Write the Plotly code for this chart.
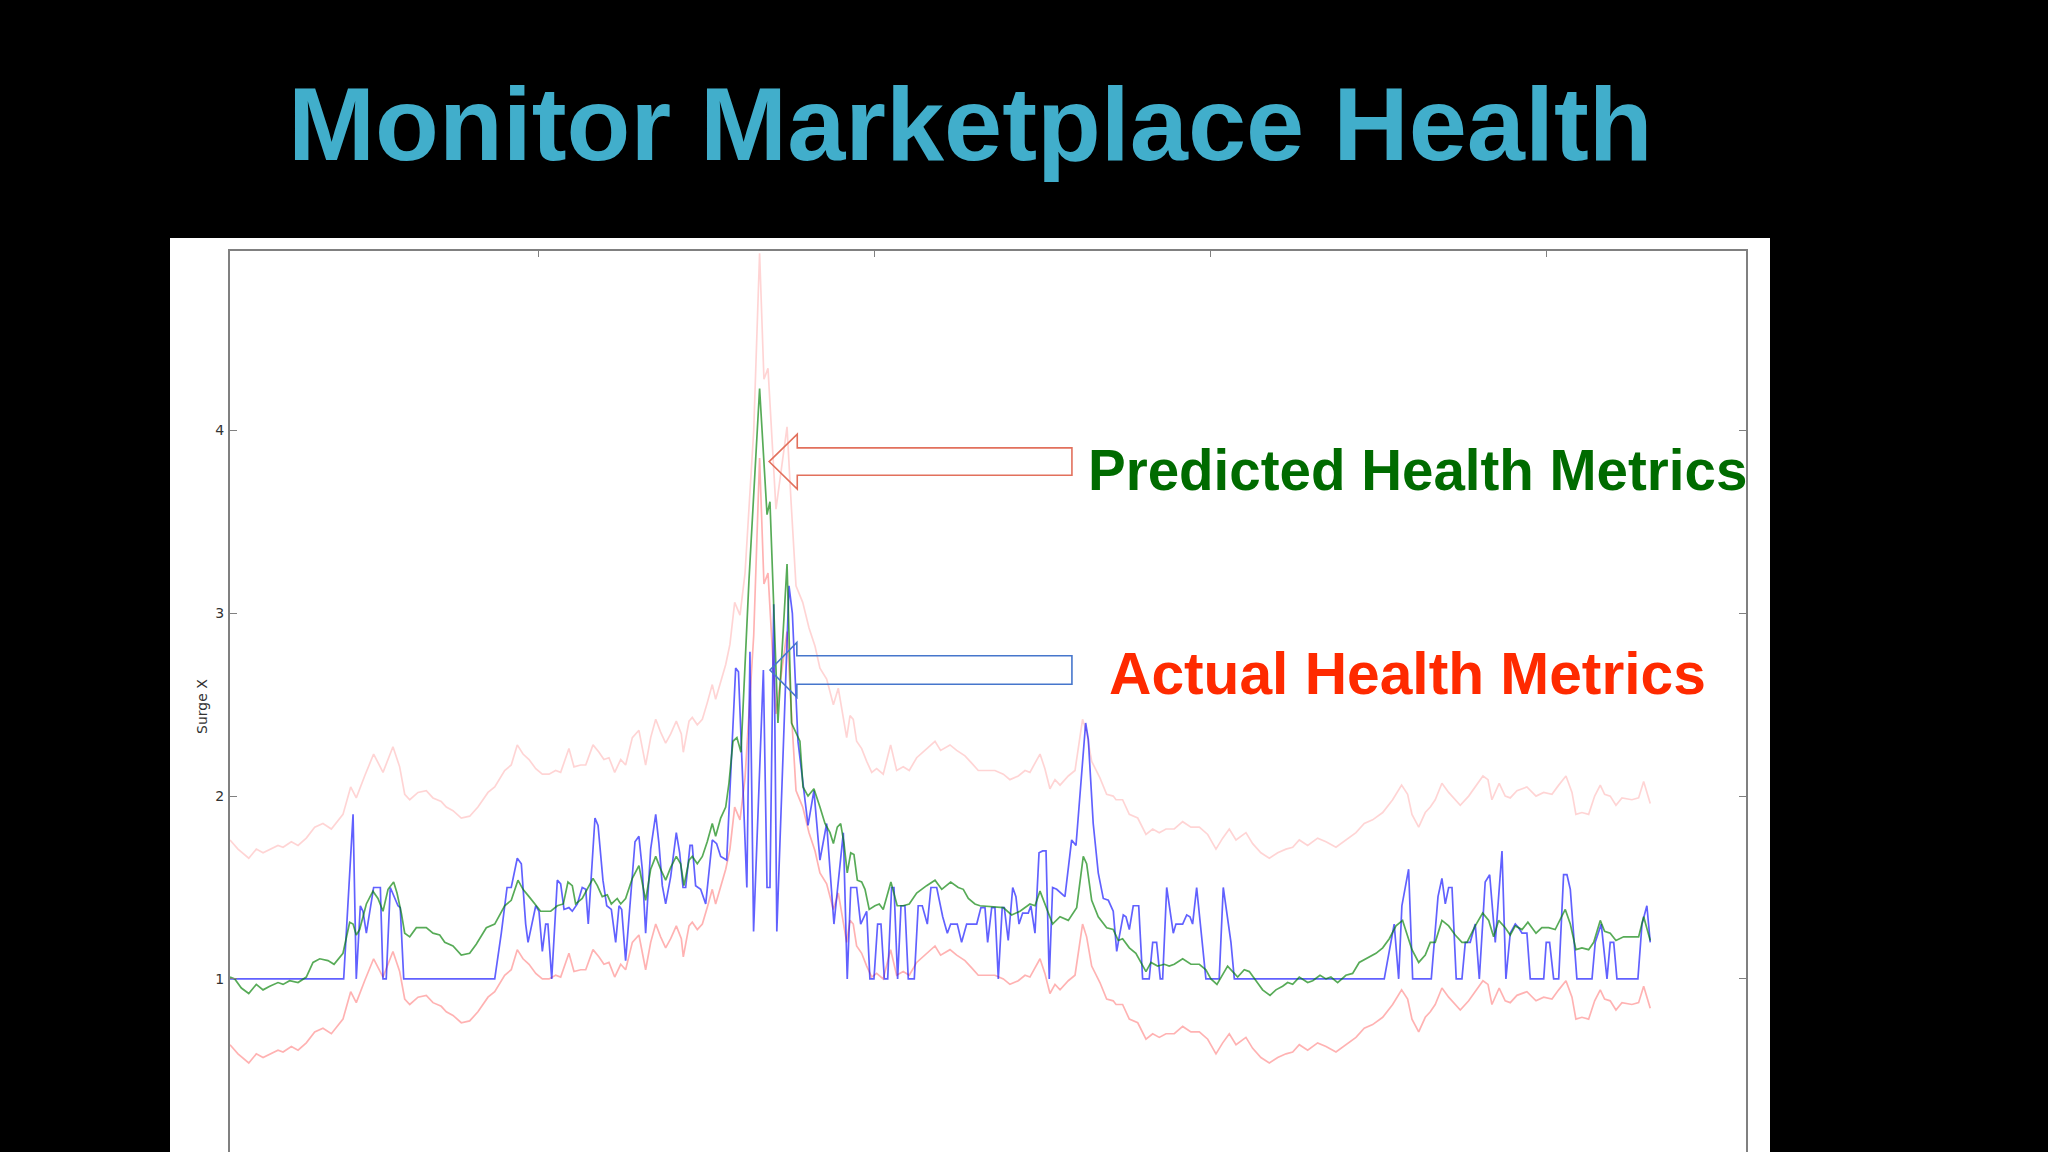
import plotly.graph_objects as go

# ---------------- data (time in hours from start, values = surge multiplier) ----------------
actual_t = [
    0.00, 8.12, 8.79, 9.02, 9.31, 9.50, 9.74, 10.26, 10.74, 10.93, 11.16, 11.45, 12.00, 12.16, 12.41, 18.91, 19.38, 19.79, 20.09, 20.52, 20.81, 21.12,
    21.29, 21.84, 22.07, 22.31, 22.55, 22.71, 22.98, 23.38, 23.62, 23.86, 24.21, 24.45, 24.81, 25.16, 25.41, 25.59, 26.07, 26.29, 26.64, 26.91,
    27.24, 27.55, 27.79, 27.98, 28.26, 28.93, 29.21, 29.45, 29.69, 30.05, 30.41, 30.64, 30.88, 31.12, 31.48, 31.88, 32.12, 32.36, 32.55, 32.86,
    33.02, 33.26, 33.62, 33.98, 34.45, 34.76, 35.05, 35.48,
    36.12, 36.32, 36.92, 37.14, 37.40, 38.10, 38.36, 38.57, 38.84, 39.06, 39.93, 40.17, 40.57, 41.07, 41.29, 41.71,
    42.14, 42.62, 43.14, 43.81, 44.09, 44.34, 44.76, 45.05, 45.48, 45.71, 46.00, 46.26, 46.50, 46.74, 46.98, 47.26, 47.43, 47.69, 47.93, 48.21,
    48.45, 48.88, 49.16, 49.45, 49.81, 50.07, 50.48, 50.91, 51.24, 51.48, 51.95, 52.26, 52.62, 53.34, 53.64, 53.93, 54.12, 54.41, 54.64, 54.88,
    55.16, 55.31, 55.59, 55.91, 56.14, 56.36, 56.62, 57.02, 57.21, 57.50, 57.79, 58.05, 58.29, 58.52, 58.76, 59.05, 59.64, 60.12, 60.43, 61.12,
    61.31, 61.66, 62.02, 62.38, 62.74, 63.09, 63.34,
    63.52, 63.81, 64.00, 64.24, 64.52, 64.91, 65.19, 65.66, 65.91, 66.19, 66.45, 66.62, 66.91, 67.38, 67.57, 68.05, 68.34, 68.57, 68.76, 69.05,
    69.71, 70.66, 70.95, 71.50, 71.74, 82.45, 83.16, 83.48, 83.71, 84.19, 84.48,
    85.81, 86.29, 86.57, 86.81, 87.05, 87.29, 87.59, 88.00, 88.24, 88.59, 88.95, 89.24, 89.66, 89.98, 90.38, 90.86, 91.14, 91.45, 91.81, 92.05,
    92.29, 92.64, 92.88, 93.84, 94.02, 94.26, 94.55, 94.91, 95.26, 95.50, 95.74, 96.21, 97.29, 97.52, 97.95, 98.36, 98.59, 98.84, 99.07, 100.57,
    100.86, 101.21, 101.45,
]
actual = [
    1.0, 1.0, 1.90, 1.0, 1.40, 1.37, 1.25, 1.50, 1.50, 1.0, 1.0, 1.50, 1.40, 1.39, 1.0, 1.0, 1.25, 1.50, 1.50, 1.66, 1.63, 1.30,
    1.20, 1.40, 1.37, 1.15, 1.30, 1.30, 1.0, 1.54, 1.52, 1.38, 1.39, 1.37, 1.41, 1.50, 1.49, 1.30, 1.88, 1.84, 1.54, 1.40,
    1.38, 1.20, 1.40, 1.38, 1.10, 1.75, 1.78, 1.60, 1.25, 1.71, 1.90, 1.74, 1.51, 1.41, 1.56, 1.80, 1.69, 1.50, 1.50, 1.73,
    1.73, 1.51, 1.49, 1.41, 1.76, 1.74, 1.67, 1.65,
    2.70, 2.68, 1.50, 2.79, 1.26, 2.69, 1.50, 1.50, 3.05, 1.26, 3.15, 3.00, 2.30, 2.00, 1.84, 2.03,
    1.65, 1.85, 1.30, 1.80, 1.0, 1.50, 1.50, 1.30, 1.37, 1.0, 1.0, 1.30, 1.30, 1.0, 1.0, 1.50, 1.50, 1.0, 1.40, 1.40,
    1.0, 1.0, 1.40, 1.40, 1.30, 1.50, 1.50, 1.34, 1.25, 1.30, 1.30, 1.20, 1.30, 1.30, 1.39, 1.39, 1.20, 1.39, 1.39, 1.0,
    1.39, 1.39, 1.21, 1.50, 1.45, 1.30, 1.36, 1.36, 1.40, 1.25, 1.69, 1.70, 1.70, 1.0, 1.50, 1.49, 1.45, 1.76, 1.73, 2.40,
    2.31, 1.85, 1.58, 1.44, 1.43, 1.37, 1.15,
    1.23, 1.35, 1.34, 1.27, 1.40, 1.40, 1.0, 1.0, 1.20, 1.20, 1.0, 1.0, 1.50, 1.25, 1.30, 1.30, 1.35, 1.34, 1.30, 1.50,
    1.0, 1.0, 1.50, 1.20, 1.0, 1.0, 1.30, 1.0, 1.40, 1.60, 1.0,
    1.0, 1.45, 1.55, 1.41, 1.50, 1.50, 1.0, 1.0, 1.20, 1.20, 1.30, 1.0, 1.53, 1.57, 1.20, 1.70, 1.0, 1.25, 1.30, 1.28,
    1.25, 1.25, 1.0, 1.0, 1.20, 1.20, 1.0, 1.0, 1.57, 1.57, 1.49, 1.0, 1.0, 1.20, 1.30, 1.0, 1.20, 1.20, 1.0, 1.0,
    1.30, 1.40, 1.20,
]

predicted_t = [
    0.00, 0.34, 0.81, 1.34, 1.88, 2.36, 2.84, 3.43, 3.79, 4.26, 4.86, 5.45, 5.93, 6.41, 7.00, 7.43, 8.07, 8.55, 8.79, 9.02,
    9.26, 9.74, 10.21, 10.57, 10.93, 11.29, 11.69, 11.93, 12.24, 12.48, 12.84, 13.31, 14.02, 14.50, 14.98, 15.34, 15.93, 16.52, 17.12, 17.59,
    18.31, 18.91, 19.62, 20.09, 20.57, 20.93,
    21.36, 21.84, 22.19, 22.91, 23.38, 23.81, 24.14, 24.45, 24.69, 25.16, 25.52, 25.93, 26.24, 26.59, 26.95, 27.24, 27.66, 27.91, 28.26, 28.74,
    29.21, 29.69, 30.05, 30.41, 30.76, 31.12, 31.48, 31.88, 32.19, 32.43, 32.79, 33.02, 33.38, 33.74, 34.09, 34.45, 34.69, 35.05, 35.41, 35.64,
    35.93, 36.21, 36.50, 37.07, 37.83, 38.36, 38.57, 39.14, 39.79, 40.11, 40.71, 40.93, 41.29, 41.71,
    42.14, 42.50, 42.86, 43.10, 43.38, 43.62, 43.86, 44.09, 44.34, 44.57, 44.81, 45.12, 45.36, 45.66, 46.07, 46.38, 46.66, 47.21, 47.66, 48.09,
    48.52, 49.05, 49.76, 50.36, 50.84, 51.48, 52.02, 52.38, 52.74, 53.21, 53.57, 55.24, 55.83, 56.43, 57.14, 57.50, 57.86, 58.33, 58.76, 59.29,
    59.88, 60.48, 60.95, 61.19, 61.55, 62.02, 62.62, 63.09, 63.45,
    63.76, 64.24, 64.71, 65.07, 65.43, 65.79, 66.26, 66.74, 67.09, 67.45, 68.05, 68.64, 69.24, 69.71, 70.07, 70.50, 70.91, 71.26, 71.62, 71.98,
    72.45, 72.81, 73.29, 73.76, 74.29, 74.71, 75.19, 75.55, 75.91, 76.38, 76.98, 77.34, 77.86, 78.29, 78.64, 79.12, 79.71, 80.19, 80.66, 81.38,
    81.86, 82.34, 82.81, 83.29, 83.76,
    84.43, 84.91, 85.38, 85.74, 86.09, 86.57, 87.05, 87.52, 88.00, 88.36, 88.95, 89.48, 89.91, 90.26, 90.62, 91.09, 91.45, 91.81, 92.29, 92.71,
    93.29, 93.71, 94.19, 94.66, 95.38, 95.74, 96.14, 96.57, 97.05, 97.41, 97.88, 98.19, 98.59, 99.00, 99.55, 100.14, 100.62, 100.98, 101.45,
]
predicted = [
    1.01, 1.00, 0.95, 0.92, 0.97, 0.94, 0.96, 0.98, 0.97, 0.99, 0.98, 1.01, 1.09, 1.11, 1.10, 1.08, 1.14, 1.31, 1.30, 1.24,
    1.27, 1.41, 1.48, 1.44, 1.37, 1.49, 1.53, 1.47, 1.36, 1.25, 1.23, 1.28, 1.28, 1.25, 1.24, 1.20, 1.18, 1.13, 1.14, 1.19,
    1.28, 1.30, 1.40, 1.43, 1.54, 1.49,
    1.45, 1.40, 1.37, 1.37, 1.40, 1.41, 1.53, 1.51, 1.41, 1.44, 1.49, 1.55, 1.51, 1.45, 1.46, 1.41, 1.44, 1.41, 1.44, 1.55,
    1.62, 1.43, 1.60, 1.67, 1.60, 1.54, 1.61, 1.67, 1.63, 1.51, 1.65, 1.67, 1.63, 1.67, 1.75, 1.85, 1.78, 1.88, 1.94, 2.07,
    2.30, 2.32, 2.24, 3.18, 4.23, 3.54, 3.61, 2.40, 3.27, 2.40, 2.30, 2.05, 2.00, 2.04,
    1.94, 1.85, 1.80, 1.74, 1.83, 1.85, 1.74, 1.58, 1.69, 1.68, 1.54, 1.53, 1.49, 1.38, 1.40, 1.41, 1.38, 1.53, 1.40, 1.40,
    1.41, 1.47, 1.51, 1.54, 1.49, 1.53, 1.50, 1.49, 1.44, 1.41, 1.40, 1.39, 1.35, 1.37, 1.41, 1.40, 1.48, 1.38, 1.30, 1.34,
    1.32, 1.39, 1.67, 1.63, 1.43, 1.34, 1.28, 1.27, 1.21,
    1.22, 1.17, 1.14, 1.09, 1.04, 1.09, 1.07, 1.08, 1.07, 1.08, 1.11, 1.08, 1.08, 1.05, 1.00, 0.97, 1.02, 1.07, 1.04, 1.01,
    1.05, 1.04, 0.99, 0.94, 0.91, 0.94, 0.96, 0.98, 0.97, 1.01, 0.98, 0.99, 1.02, 1.00, 1.01, 0.98, 1.02, 1.03, 1.09, 1.12,
    1.14, 1.17, 1.22, 1.29, 1.32,
    1.16, 1.09, 1.13, 1.20, 1.20, 1.32, 1.29, 1.24, 1.20, 1.20, 1.29, 1.36, 1.32, 1.23, 1.32, 1.28, 1.24, 1.29, 1.27, 1.31,
    1.25, 1.28, 1.28, 1.27, 1.38, 1.30, 1.16, 1.17, 1.16, 1.20, 1.32, 1.26, 1.25, 1.21, 1.23, 1.23, 1.23, 1.34, 1.21,
]

band_t = [
    0.00, 0.57, 1.34, 1.88, 2.36, 2.84, 3.43, 3.79, 4.38, 4.86, 5.45, 6.05, 6.64, 7.24, 8.07, 8.62, 9.02, 9.62, 10.26, 10.93,
    11.64, 12.12, 12.48, 12.84, 13.43, 14.02, 14.50, 15.09, 15.45, 15.93, 16.52, 17.12, 17.71, 18.43, 18.91, 19.62, 20.09, 20.52, 20.93,
    21.36, 21.84, 22.31, 22.79, 23.26, 23.62, 24.21, 24.57, 25.05, 25.41, 25.93, 26.36, 26.71, 27.07, 27.48, 27.91, 28.26, 28.74, 29.21, 29.69,
    30.05, 30.41, 30.76, 31.12, 31.48, 31.88, 32.24, 32.38, 32.79, 33.02, 33.38, 33.74, 34.09, 34.45, 34.69, 35.05, 35.41, 35.71, 36.05, 36.43,
    36.79, 37.41, 37.83, 38.14, 38.43, 39.00, 39.79, 40.07, 40.43, 40.91, 41.36, 41.79,
    42.14, 42.62, 43.10, 43.45, 43.81, 44.05, 44.29, 44.52, 44.76, 45.12, 45.48, 45.84, 46.19, 46.66, 47.19, 47.62, 48.09, 48.52, 49.05, 49.76,
    50.36, 50.76, 51.43, 51.91, 52.50, 52.98, 53.45, 54.05, 54.64, 55.24, 55.71, 56.31, 56.79, 57.14, 57.86, 58.21, 58.57, 58.93, 59.29, 59.88,
    60.36, 60.90, 61.19, 61.55, 62.14, 62.62, 63.09,
    63.29, 63.76, 64.24, 64.84, 65.43, 65.91, 66.38, 66.86, 67.45, 68.05, 68.64, 69.24, 69.84, 70.43, 70.91, 71.38, 71.86, 72.57, 73.05, 73.64,
    74.24, 74.84, 75.43, 75.91, 76.38, 76.98, 77.69, 78.29, 79.00, 79.71, 80.43, 81.02, 81.62, 82.34, 83.05, 83.69, 84.12,
    84.43, 84.91, 85.38, 85.74, 86.09, 86.57, 87.05, 87.88, 88.48, 88.95, 89.50, 89.86, 90.14, 90.66, 91.09, 91.45, 91.93, 92.64, 93.29, 93.84,
    94.43, 94.91, 95.43, 95.86, 96.14, 96.57, 97.05, 97.48, 97.88, 98.19, 98.59, 99.00, 99.43, 100.14, 100.62, 100.98, 101.45,
]
band_lower = [
    0.64, 0.59, 0.54, 0.59, 0.57, 0.59, 0.61, 0.60, 0.63, 0.61, 0.65, 0.71, 0.73, 0.70, 0.78, 0.93, 0.87, 0.99, 1.11, 1.01,
    1.15, 1.04, 0.89, 0.86, 0.90, 0.91, 0.87, 0.85, 0.82, 0.80, 0.76, 0.77, 0.82, 0.90, 0.93, 1.02, 1.05, 1.16, 1.11,
    1.08, 1.03, 1.00, 1.00, 1.02, 1.01, 1.14, 1.04, 1.05, 1.05, 1.16, 1.12, 1.08, 1.09, 1.01, 1.08, 1.05, 1.20, 1.24, 1.05,
    1.20, 1.30, 1.23, 1.17, 1.22, 1.29, 1.22, 1.12, 1.29, 1.31, 1.27, 1.30, 1.39, 1.49, 1.41, 1.51, 1.60, 1.71, 1.94, 1.87,
    2.10, 2.88, 3.85, 3.16, 3.22, 2.45, 2.90, 2.50, 2.03, 1.94, 1.80, 1.70,
    1.58, 1.52, 1.38, 1.47, 1.30, 1.20, 1.32, 1.30, 1.18, 1.14, 1.07, 1.01, 1.03, 1.00, 1.16, 1.02, 1.04, 1.02, 1.09, 1.14,
    1.18, 1.13, 1.16, 1.13, 1.10, 1.06, 1.02, 1.02, 1.02, 1.00, 0.97, 0.99, 1.02, 1.01, 1.11, 1.03, 0.92, 0.97, 0.94, 0.99,
    1.02, 1.30, 1.23, 1.07, 0.98, 0.89, 0.88,
    0.86, 0.86, 0.78, 0.76, 0.67, 0.70, 0.68, 0.70, 0.70, 0.74, 0.71, 0.71, 0.67, 0.59, 0.65, 0.70, 0.64, 0.68, 0.62, 0.57,
    0.54, 0.57, 0.59, 0.60, 0.64, 0.61, 0.65, 0.63, 0.60, 0.64, 0.68, 0.73, 0.75, 0.79, 0.86, 0.94, 0.89,
    0.78, 0.71, 0.79, 0.82, 0.86, 0.95, 0.90, 0.83, 0.88, 0.93, 0.99, 0.97, 0.86, 0.95, 0.88, 0.87, 0.91, 0.93, 0.88, 0.90,
    0.89, 0.94, 0.99, 0.90, 0.78, 0.79, 0.78, 0.88, 0.94, 0.89, 0.88, 0.83, 0.87, 0.86, 0.87, 0.96, 0.84,
]
band_upper = [
    1.76, 1.71, 1.66, 1.71, 1.69, 1.71, 1.73, 1.72, 1.75, 1.73, 1.77, 1.83, 1.85, 1.82, 1.90, 2.05, 1.99, 2.11, 2.23, 2.13,
    2.27, 2.16, 2.01, 1.98, 2.02, 2.03, 1.99, 1.97, 1.94, 1.92, 1.88, 1.89, 1.94, 2.02, 2.05, 2.14, 2.17, 2.28, 2.23,
    2.20, 2.15, 2.12, 2.12, 2.14, 2.13, 2.26, 2.16, 2.17, 2.17, 2.28, 2.24, 2.20, 2.21, 2.13, 2.20, 2.17, 2.32, 2.36, 2.17,
    2.32, 2.42, 2.35, 2.29, 2.34, 2.41, 2.34, 2.24, 2.41, 2.43, 2.39, 2.42, 2.51, 2.61, 2.53, 2.63, 2.72, 2.83, 3.06, 2.99,
    3.22, 4.00, 4.97, 4.28, 4.34, 3.57, 4.02, 3.62, 3.15, 3.06, 2.92, 2.82,
    2.70, 2.64, 2.50, 2.59, 2.42, 2.32, 2.44, 2.42, 2.30, 2.26, 2.19, 2.13, 2.15, 2.12, 2.28, 2.14, 2.16, 2.14, 2.21, 2.26,
    2.30, 2.25, 2.28, 2.25, 2.22, 2.18, 2.14, 2.14, 2.14, 2.12, 2.09, 2.11, 2.14, 2.13, 2.23, 2.15, 2.04, 2.09, 2.06, 2.11,
    2.14, 2.42, 2.35, 2.19, 2.10, 2.01, 2.00,
    1.98, 1.98, 1.90, 1.88, 1.79, 1.82, 1.80, 1.82, 1.82, 1.86, 1.83, 1.83, 1.79, 1.71, 1.77, 1.82, 1.76, 1.80, 1.74, 1.69,
    1.66, 1.69, 1.71, 1.72, 1.76, 1.73, 1.77, 1.75, 1.72, 1.76, 1.80, 1.85, 1.87, 1.91, 1.98, 2.06, 2.01,
    1.90, 1.83, 1.91, 1.94, 1.98, 2.07, 2.02, 1.95, 2.00, 2.05, 2.11, 2.09, 1.98, 2.07, 2.00, 1.99, 2.03, 2.05, 2.00, 2.02,
    2.01, 2.06, 2.11, 2.02, 1.90, 1.91, 1.90, 2.00, 2.06, 2.01, 2.00, 1.95, 1.99, 1.98, 1.99, 2.08, 1.96,
]

y_ticks = [1, 2, 3, 4]
y_tick_labels = ["1", "2", "3", "4"]
x_ticks = [22.05, 46.05, 70.05, 94.05]

assert len(actual_t) == len(actual)
assert len(predicted_t) == len(predicted)
assert len(band_t) == len(band_lower) == len(band_upper)

# ---------------- figure ----------------
W, H = 2048, 1152
ML, MR, MT, MB = 230, 302, 251, 0
PW, PH = W - ML - MR, H - MT - MB


def px(xp):
    return (xp - ML) / PW


def py(yp):
    return (H - MB - yp) / PH


fig = go.Figure()
fig.add_trace(go.Scatter(x=band_t, y=band_upper, mode="lines",
                         line=dict(color="rgba(255,0,0,0.17)", width=1.7), hoverinfo="skip"))
fig.add_trace(go.Scatter(x=band_t, y=band_lower, mode="lines",
                         line=dict(color="rgba(255,0,0,0.30)", width=1.7), hoverinfo="skip"))
fig.add_trace(go.Scatter(x=actual_t, y=actual, mode="lines",
                         line=dict(color="rgba(0,0,255,0.62)", width=1.7), hoverinfo="skip"))
fig.add_trace(go.Scatter(x=predicted_t, y=predicted, mode="lines",
                         line=dict(color="rgba(0,128,0,0.66)", width=1.7), hoverinfo="skip"))


def block_arrow(tip_x, tip_y, base_x, end_x, head_half, shaft_half):
    return (f"M {tip_x},{tip_y} L {base_x},{tip_y + head_half} L {base_x},{tip_y + shaft_half} "
            f"L {end_x},{tip_y + shaft_half} L {end_x},{tip_y - shaft_half} L {base_x},{tip_y - shaft_half} "
            f"L {base_x},{tip_y - head_half} Z")


shapes = [
    # white slide panel holding the chart
    dict(type="rect", xref="paper", yref="paper", x0=px(170), x1=px(1770), y0=-0.02, y1=py(238),
         fillcolor="white", line=dict(width=0), layer="below"),
    # outlined callout arrows
    dict(type="path", xref="x", yref="y", path=block_arrow(38.51, 3.83, 40.52, 60.14, 0.15, 0.075),
         line=dict(color="#E2705C", width=1.6), fillcolor="rgba(0,0,0,0)", layer="above"),
    dict(type="path", xref="x", yref="y", path=block_arrow(38.57, 2.69, 40.49, 60.14, 0.15, 0.078),
         line=dict(color="#4676CC", width=1.6), fillcolor="rgba(0,0,0,0)", layer="above"),
]

annotations = [
    dict(text="<b>Monitor Marketplace Health</b>", xref="paper", yref="paper", x=px(970), y=py(124),
         xanchor="center", yanchor="middle", showarrow=False,
         font=dict(family="Liberation Sans, Arial, Helvetica, sans-serif", size=104.5, color="#41AECB")),
    dict(text="<b>Predicted Health Metrics</b>", xref="paper", yref="paper", x=px(1086), y=py(470),
         xanchor="left", yanchor="middle", showarrow=False,
         font=dict(family="Liberation Sans, Arial, Helvetica, sans-serif", size=56.5, color="#006B00")),
    dict(text="<b>Actual Health Metrics</b>", xref="paper", yref="paper", x=px(1107), y=py(673),
         xanchor="left", yanchor="middle", showarrow=False,
         font=dict(family="Liberation Sans, Arial, Helvetica, sans-serif", size=58.7, color="#FF2A00")),
    dict(text="Surge X", xref="paper", yref="paper", x=px(202), y=py(707), textangle=-90,
         xanchor="center", yanchor="middle", showarrow=False,
         font=dict(family="DejaVu Sans, sans-serif", size=14, color="#333333")),
]

fig.update_layout(
    width=W, height=H,
    margin=dict(l=ML, r=MR, t=MT, b=MB, autoexpand=False),
    paper_bgcolor="black", plot_bgcolor="white",
    showlegend=False,
    shapes=shapes, annotations=annotations,
    xaxis=dict(range=[0, 108.29], side="top", showline=True, linecolor="#808080", linewidth=2,
               ticks="inside", ticklen=6, tickcolor="#808080", tickvals=x_ticks,
               showticklabels=False, showgrid=False, zeroline=False, mirror=False, fixedrange=True),
    yaxis=dict(range=[0.053, 4.982], showline=True, linecolor="#808080", linewidth=2, mirror="allticks",
               ticks="inside", ticklen=7, tickcolor="#808080", tickvals=y_ticks, ticktext=y_tick_labels,
               tickfont=dict(family="DejaVu Sans, sans-serif", size=14, color="#333333"),
               ticklabelstandoff=1, showgrid=False, zeroline=False, fixedrange=True),
)

fig.write_html("out.html", config={"displayModeBar": False},
               post_script="document.body.style.margin='0px';document.body.style.overflow='hidden';")
